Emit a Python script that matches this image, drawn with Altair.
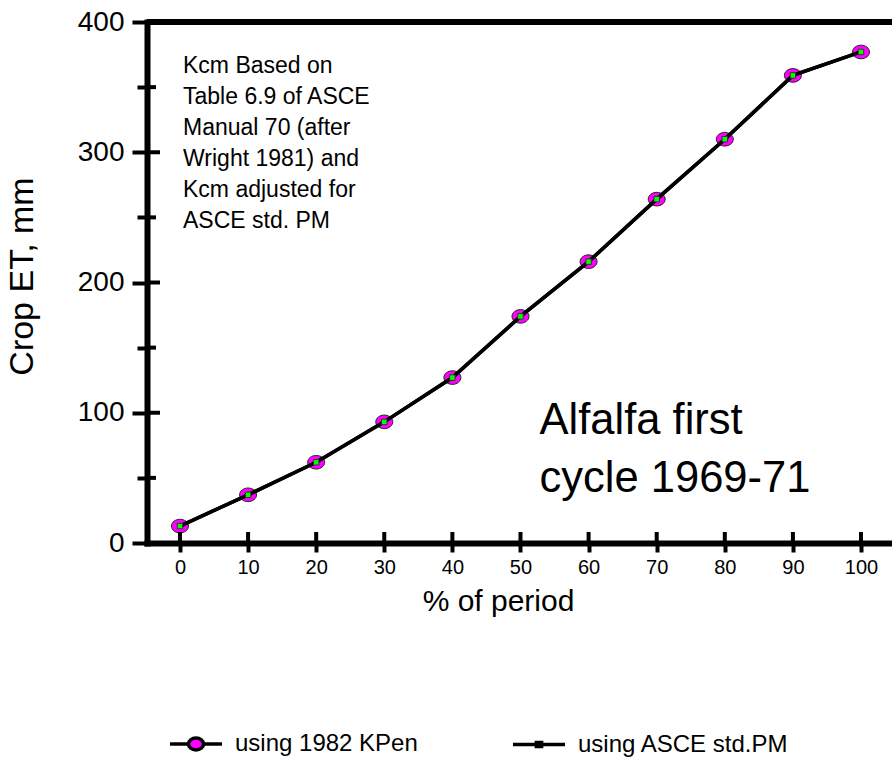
import altair as alt
import pandas as pd

# ---- data ----
pct = [0, 10, 20, 30, 40, 50, 60, 70, 80, 90, 100]
et_kpen = [13, 37, 62, 93, 127, 174, 216, 264, 310, 359, 377]
et_asce = [13, 37, 62, 93, 127, 174, 216, 264, 310, 359, 377]
series_names = ["using 1982 KPen", "using ASCE std.PM"]
series_fill = ["#ff00ff", "#00ff00"]
x_ticks = [0, 10, 20, 30, 40, 50, 60, 70, 80, 90, 100]
y_major = [0, 100, 200, 300, 400]
y_minor = [50, 150, 250, 350]
note_lines = ["Kcm Based on", "Table 6.9 of ASCE", "Manual 70 (after",
              "Wright 1981) and", "Kcm adjusted for", "ASCE std. PM"]
big_lines = ["Alfalfa first", "cycle 1969-71"]

df = pd.DataFrame({
    "pct": pct + pct,
    "et": et_kpen + et_asce,
    "series": [series_names[0]] * len(pct) + [series_names[1]] * len(pct),
})
one = pd.DataFrame({"k": [0]})
xt_df = pd.DataFrame({"pct": x_ticks})
ymaj_df = pd.DataFrame({"et": y_major})
ymin_df = pd.DataFrame({"et": y_minor})

FONT = "Liberation Sans"
W, H = 745, 521
XDOM = [-4.84, 104.55]
YDOM = [0, 400]

xs = alt.Scale(domain=XDOM, nice=False, zero=False)
ys = alt.Scale(domain=YDOM, nice=False, zero=False)

x_axis = alt.Axis(
    values=x_ticks, title="% of period", format="d",
    domainWidth=6, domainColor="black", domainCap="square",
    tickColor="black", tickWidth=4, tickSize=9,
    labelFontSize=20, labelFont=FONT, labelColor="black", labelPadding=5,
    labelFlush=False, labelOverlap=False,
    titleFontSize=30, titleFont=FONT, titleFontWeight="normal", titleColor="black",
    titlePadding=9, titleX=351, titleAlign="center",
    grid=False,
)
y_axis = alt.Axis(
    values=y_major + y_minor, title="Crop ET, mm",
    labelExpr="datum.value % 100 === 0 ? datum.label : ''",
    domainWidth=6, domainColor="black", domainCap="square",
    tickColor="black", tickWidth=4,
    tickSize={"condition": {"test": "datum.value % 100 === 0", "value": 15}, "value": 10},
    labelFontSize=28, labelFont=FONT, labelColor="black", labelPadding=8,
    labelOverlap=False,
    titleFontSize=34, titleFont=FONT, titleFontWeight="normal", titleColor="black",
    titlePadding=38, titleY=254,
    grid=False,
)

X = alt.X("pct:Q", scale=xs, axis=x_axis)
Y = alt.Y("et:Q", scale=ys, axis=y_axis)

ellipse = "M-1,0A1,0.8,0,1,0,1,0A1,0.8,0,1,0,-1,0Z"
leg_path_1 = ("M-1,0L-0.29,0M0.29,0L1,0"
              "M-0.29,0A0.29,0.23,0,1,0,0.29,0A0.29,0.23,0,1,0,-0.29,0Z")
leg_path_2 = "M-1,0L1,0M-0.1,-0.08L0.1,-0.08L0.1,0.08L-0.1,0.08Z"

leg = alt.Legend(
    title=None, orient="none", legendX=21, legendY=694, direction="horizontal",
    columns=2, symbolSize=2704, symbolStrokeWidth=3.5, symbolStrokeColor="black",
    symbolOpacity=1, labelFontSize=24, labelFont=FONT, labelColor="black",
    labelOffset=11, columnPadding=88, padding=0, labelLimit=400,
)

base = alt.Chart(df)

ellipses = base.transform_filter(alt.datum.series == series_names[0]).mark_point(
    shape=ellipse, size=289, filled=True, fill=series_fill[0], stroke="#222222",
    strokeWidth=1, opacity=1,
).encode(x=X, y=Y)

lines = base.mark_line(color="black", strokeWidth=3.5).encode(
    x=X, y=Y, detail="series:N")

squares = base.transform_filter(alt.datum.series == series_names[1]).mark_point(
    shape="square", size=30, filled=True, fill=series_fill[1], stroke="#333333",
    strokeWidth=1, opacity=1,
).encode(x=X, y=Y)

legend_layer = base.mark_point(filled=True, opacity=0, strokeWidth=3.5).encode(
    x=X, y=Y,
    shape=alt.Shape("series:N", scale=alt.Scale(domain=series_names,
                                                range=[leg_path_1, leg_path_2]), legend=leg),
    fill=alt.Fill("series:N", scale=alt.Scale(domain=series_names, range=series_fill),
                  legend=leg),
    stroke=alt.Stroke("series:N", scale=alt.Scale(domain=series_names,
                                                  range=["black", "black"]), legend=leg),
)

# inward halves of the axis ticks (the outward halves come from the axes)
TICKC = "black"
x_in = alt.Chart(xt_df).mark_tick(
    color=TICKC, orient="vertical", size=11, thickness=4, opacity=1,
).encode(x=X, y=alt.value(H - 5.5))
y_in_major = alt.Chart(ymaj_df).mark_tick(
    color=TICKC, orient="horizontal", size=13, thickness=4, opacity=1,
).encode(y=Y, x=alt.value(6.5))
y_in_minor = alt.Chart(ymin_df).mark_tick(
    color=TICKC, orient="horizontal", size=9, thickness=4, opacity=1,
).encode(y=Y, x=alt.value(4.5))

top_frame = alt.Chart(one).mark_rule(color="black", strokeWidth=6).encode(
    y=alt.datum(400))

note = alt.Chart(one).mark_text(
    align="left", baseline="alphabetic", font=FONT, fontSize=23, lineHeight=31,
    color="black",
).encode(x=alt.datum(0.45), y=alt.datum(360.8), text=alt.value(note_lines))

big = alt.Chart(one).mark_text(
    align="left", baseline="alphabetic", font=FONT, fontSize=43.5, lineHeight=58,
    color="black",
).encode(x=alt.datum(52.8), y=alt.datum(83.7), text=alt.value(big_lines))

chart = alt.layer(
    legend_layer, ellipses, lines, squares, x_in, y_in_major, y_in_minor,
    note, big, top_frame
).properties(
    width=W, height=H,
    padding={"left": 147, "top": 22, "right": 0, "bottom": 216},
    autosize=alt.AutoSizeParams(type="none"),
    background="white",
).configure_view(stroke=None)

chart.save("out.html", embed_options={"renderer": "svg", "actions": False})
